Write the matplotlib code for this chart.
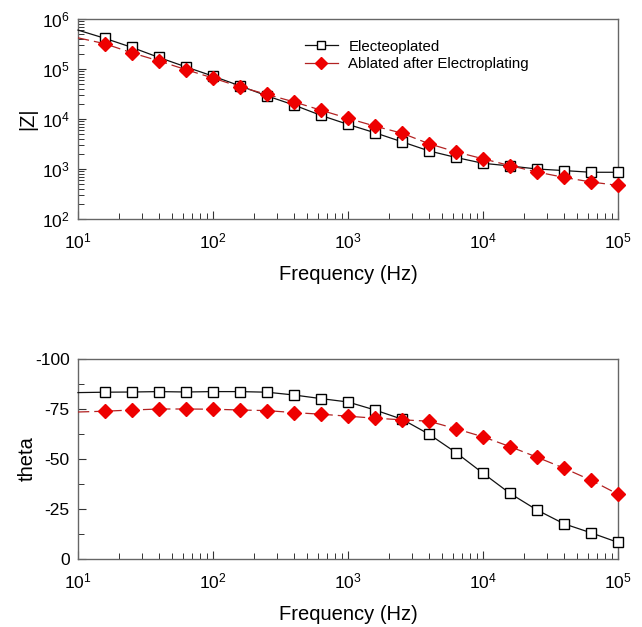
import numpy as np
import matplotlib
matplotlib.use("Agg")
import matplotlib.pyplot as plt
from matplotlib.ticker import LogLocator, MultipleLocator, NullFormatter

plt.rcParams['font.family'] = ['Liberation Sans', 'DejaVu Sans']
plt.rcParams['axes.unicode_minus'] = False

freq = [10, 15.85, 25.12, 39.81, 63.10, 100, 158.5, 251.2, 398.1, 631.0, 1000,
        1585, 2512, 3981, 6310, 10000, 15849, 25119, 39811, 63096, 100000]

z_electro = [6.0e5, 4.1e5, 2.7e5, 1.7e5, 1.1e5, 7.2e4, 4.6e4, 2.9e4, 1.9e4, 1.18e4,
             7.8e3, 5.3e3, 3.5e3, 2.3e3, 1.7e3, 1.3e3, 1.15e3, 1.0e3, 930, 860, 860]
z_ablated = [4.2e5, 3.2e5, 2.1e5, 1.45e5, 9.7e4, 6.6e4, 4.4e4, 3.1e4, 2.2e4, 1.5e4,
             1.03e4, 7.2e3, 5.2e3, 3.2e3, 2.2e3, 1.6e3, 1.17e3, 870, 680, 550, 470]

theta_electro = [-83.2, -83.4, -83.5, -83.7, -83.5, -83.7, -83.7, -83.4, -82.0, -80.2,
                 -78.5, -74.5, -69.9, -62.4, -53.2, -42.9, -32.8, -24.5, -17.6, -13.1, -8.3]
theta_ablated = [-73.5, -73.9, -74.5, -75.0, -75.0, -74.9, -74.5, -74.2, -73.2, -72.4,
                 -71.4, -70.4, -69.6, -68.9, -65.1, -61.1, -56.2, -50.9, -45.4, -39.4, -32.4]

labels = ["Electeoplated", "Ablated after Electroplating"]

fig = plt.figure(figsize=(6.42, 6.27), dpi=100)
W, H = 642, 627
ax1 = fig.add_axes([78 / W, 1 - 219 / H, 540 / W, 200 / H])
ax2 = fig.add_axes([78 / W, 1 - 559 / H, 540 / W, 200 / H])

sq = dict(color='#111111', lw=0.9, marker='s', ms=7.8, mfc='white', mec='black', mew=1.0,
          markevery=list(range(1, len(freq))), clip_on=False, zorder=3)
dm = dict(color='#b22222', lw=0.9, ls=(0, (9, 4)), marker='D', ms=7, mfc='#ee0000',
          mec='#ee0000', markevery=list(range(1, len(freq))), clip_on=False, zorder=4)

ax1.plot(freq, z_electro, label=labels[0], **sq)
ax1.plot(freq, z_ablated, label=labels[1], **dm)
ax1.set_xscale('log')
ax1.set_yscale('log')
ax1.set_xlim(10, 1e5)
ax1.set_ylim(1e2, 1e6)
ax1.set_ylabel('|Z|', fontsize=14.5, labelpad=3)
ax1.set_xlabel('Frequency (Hz)', fontsize=14.5, labelpad=10)
leg = ax1.legend(loc='upper left', bbox_to_anchor=(0.395, 0.965), frameon=False,
                 fontsize=10.8, handlelength=2.2, handletextpad=0.7, labelspacing=0.25)
for h in leg.get_lines():
    h.set_linestyle('-')
    h.set_markersize(6)

ax2.plot(freq, theta_electro, **sq)
ax2.plot(freq, theta_ablated, **dm)
ax2.set_xscale('log')
ax2.set_xlim(10, 1e5)
ax2.set_ylim(0, -100)
ax2.yaxis.set_major_locator(MultipleLocator(25))
ax2.yaxis.set_minor_locator(MultipleLocator(12.5))
ax2.set_ylabel('theta', fontsize=14.5, labelpad=-1)
ax2.set_xlabel('Frequency (Hz)', fontsize=14.5, labelpad=10)

for ax in (ax1, ax2):
    ax.xaxis.set_major_locator(LogLocator(base=10, numticks=10))
    ax.xaxis.set_minor_locator(LogLocator(base=10, subs=np.arange(2, 10), numticks=10))
    ax.xaxis.set_minor_formatter(NullFormatter())
    if ax is ax1:
        ax.yaxis.set_major_locator(LogLocator(base=10, numticks=10))
        ax.yaxis.set_minor_locator(LogLocator(base=10, subs=np.arange(2, 10), numticks=10))
        ax.yaxis.set_minor_formatter(NullFormatter())
    ax.tick_params(which='major', direction='in', length=6, width=0.8, color='#333333',
                   labelsize=12.5, pad=6, top=False, right=False)
    ax.tick_params(axis='x', which='major', pad=9)
    ax.tick_params(which='minor', direction='in', length=4, width=0.7, color='#333333',
                   top=False, right=False)
    for s in ax.spines.values():
        s.set_color('#666666')
        s.set_linewidth(1.0)

fig.savefig('out.png', dpi=100)
